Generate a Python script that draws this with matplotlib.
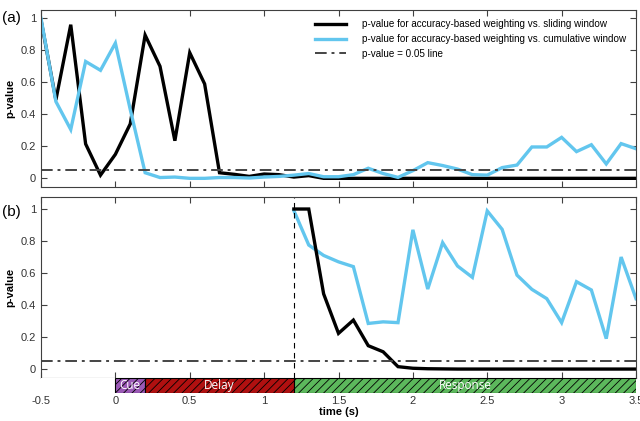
import matplotlib
matplotlib.use("Agg")
import matplotlib.pyplot as plt
import numpy as np
from matplotlib.ticker import FuncFormatter

# ---------------- data ----------------
time_a = [round(-0.5 + 0.1 * i, 1) for i in range(41)]
sliding_a = [0.99, 0.49, 0.96, 0.215, 0.02, 0.15, 0.34, 0.895, 0.70, 0.235, 0.785, 0.59,
             0.035, 0.025, 0.012, 0.027, 0.023, 0.008, 0.017, 0.0, 0.0, 0.0, 0.0, 0.0,
             0.0, 0.0, 0.0, 0.0, 0.0, 0.0, 0.0, 0.0, 0.0, 0.0, 0.0, 0.0, 0.0, 0.0, 0.0,
             0.0, 0.0]
cumulative_a = [1.0, 0.48, 0.305, 0.73, 0.675, 0.845, 0.43, 0.035, 0.005, 0.008, 0.0, 0.0,
                0.005, 0.005, 0.002, 0.008, 0.012, 0.02, 0.03, 0.01, 0.01, 0.023, 0.063,
                0.03, 0.006, 0.048, 0.098, 0.08, 0.058, 0.023, 0.02, 0.067, 0.083, 0.196,
                0.196, 0.256, 0.167, 0.21, 0.09, 0.217, 0.185]

time_b = [round(1.2 + 0.1 * i, 1) for i in range(24)]
sliding_b = [1.0, 1.0, 0.47, 0.223, 0.306, 0.146, 0.108, 0.015, 0.005, 0.002, 0.001, 0.0,
             0.0, 0.0, 0.0, 0.0, 0.0, 0.0, 0.0, 0.0, 0.0, 0.0, 0.0, 0.0]
cumulative_b = [0.99, 0.775, 0.71, 0.67, 0.64, 0.285, 0.295, 0.29, 0.87, 0.50, 0.79, 0.644,
                0.573, 0.988, 0.873, 0.587, 0.498, 0.44, 0.29, 0.546, 0.494, 0.19, 0.70, 0.44]

threshold = 0.05
phase_names = ["Cue", "Delay", "Response"]
phase_start = [0.0, 0.2, 1.2]
phase_end = [0.2, 1.2, 3.5]
phase_colors = ["#9B59B6", "#B01010", "#5CB85C"]

legend_labels = ["p-value for accuracy-based weighting vs. sliding window",
                 "p-value for accuracy-based weighting vs. cumulative window",
                 "p-value = 0.05 line"]
xticks = [-0.5, 0, 0.5, 1, 1.5, 2, 2.5, 3, 3.5]
yticks = [0, 0.2, 0.4, 0.6, 0.8, 1]

# ---------------- style ----------------
plt.rcParams['font.family'] = ['Liberation Sans', 'DejaVu Sans']
plt.rcParams['hatch.color'] = 'black'
plt.rcParams['hatch.linewidth'] = 0.6
BLACK = "#000000"
CYAN = "#62C6EE"
AXC = "#404040"
LW = 2.4

fig = plt.figure(figsize=(6.4, 4.21), dpi=100)
W, H = 640, 421

def ax_rect(l, t, r, b):
    return [l / W, 1 - b / H, (r - l) / W, (b - t) / H]

ax1 = fig.add_axes(ax_rect(41, 9.5, 636, 187.3))
ax2 = fig.add_axes(ax_rect(41, 197.5, 636, 377.7))
ax3 = fig.add_axes(ax_rect(41, 377.7, 636, 393))

fmt = FuncFormatter(lambda v, p: ("%g" % v))

def style(ax, ylim):
    ax.set_xlim(-0.5, 3.5)
    ax.set_ylim(*ylim)
    ax.set_xticks(xticks)
    ax.set_yticks(yticks)
    ax.yaxis.set_major_formatter(fmt)
    ax.tick_params(direction='in', top=True, right=True, length=4, width=0.8,
                   colors=AXC, labelsize=8, labelcolor="#333333")
    for s in ax.spines.values():
        s.set_color(AXC)
        s.set_linewidth(0.8)
    ax.set_ylabel("p-value", fontsize=8, fontweight='bold', labelpad=4)

# ---- panel (a) ----
l1, = ax1.plot(time_a, sliding_a, color=BLACK, lw=LW, solid_joinstyle='miter')
l2, = ax1.plot(time_a, cumulative_a, color=CYAN, lw=LW, solid_joinstyle='miter')
l3 = ax1.axhline(threshold, color="#444444", lw=1.4, ls=(0, (6, 2.5, 1.5, 2.5)))
style(ax1, (-0.056, 1.055))
ax1.tick_params(labelbottom=False)
ax1.legend([l1, l2, l3], legend_labels, loc='upper left', bbox_to_anchor=(0.46, 0.944),
           frameon=False, fontsize=7.1, handlelength=3.2, labelspacing=0.48,
           borderpad=0, borderaxespad=0, handletextpad=1.6)
fig.text(2 / W, 1 - 18 / H, "(a)", fontsize=11, va='center', ha='left')

# ---- panel (b) ----
ax2.plot(time_b, cumulative_b, color=CYAN, lw=LW, solid_joinstyle='miter')
ax2.plot(time_b, sliding_b, color=BLACK, lw=LW, solid_joinstyle='miter')
ax2.axhline(threshold, color="#444444", lw=1.4, ls=(0, (6, 2.5, 1.5, 2.5)))
ax2.axvline(1.2, color=BLACK, lw=0.8, ls=(0, (5, 4)))
style(ax2, (-0.054, 1.072))
ax2.tick_params(labelbottom=False)
fig.text(2 / W, 1 - 212 / H, "(b)", fontsize=11, va='center', ha='left')

# ---- timeline bar ----
ax3.set_xlim(-0.5, 3.5)
ax3.set_ylim(0, 1)
for name, s, e, c in zip(phase_names, phase_start, phase_end, phase_colors):
    ax3.bar(s, 1, width=e - s, bottom=0, align='edge', color=c, edgecolor='black',
            linewidth=0.8, hatch='////')
    ax3.text((s + e) / 2, 0.5, name, color='white', ha='center', va='center',
             fontsize=8.5, family=['Open Sans', 'DejaVu Sans'])
for s in ax3.spines.values():
    s.set_visible(False)
ax3.set_yticks([])
ax3.set_xticks(xticks)
ax3.xaxis.set_major_formatter(fmt)
ax3.tick_params(axis='x', length=0, labelsize=8, labelcolor="#333333", pad=2)
ax3.set_xlabel("time (s)", fontsize=8, fontweight='bold', labelpad=1)

fig.savefig("out.png", dpi=100)
